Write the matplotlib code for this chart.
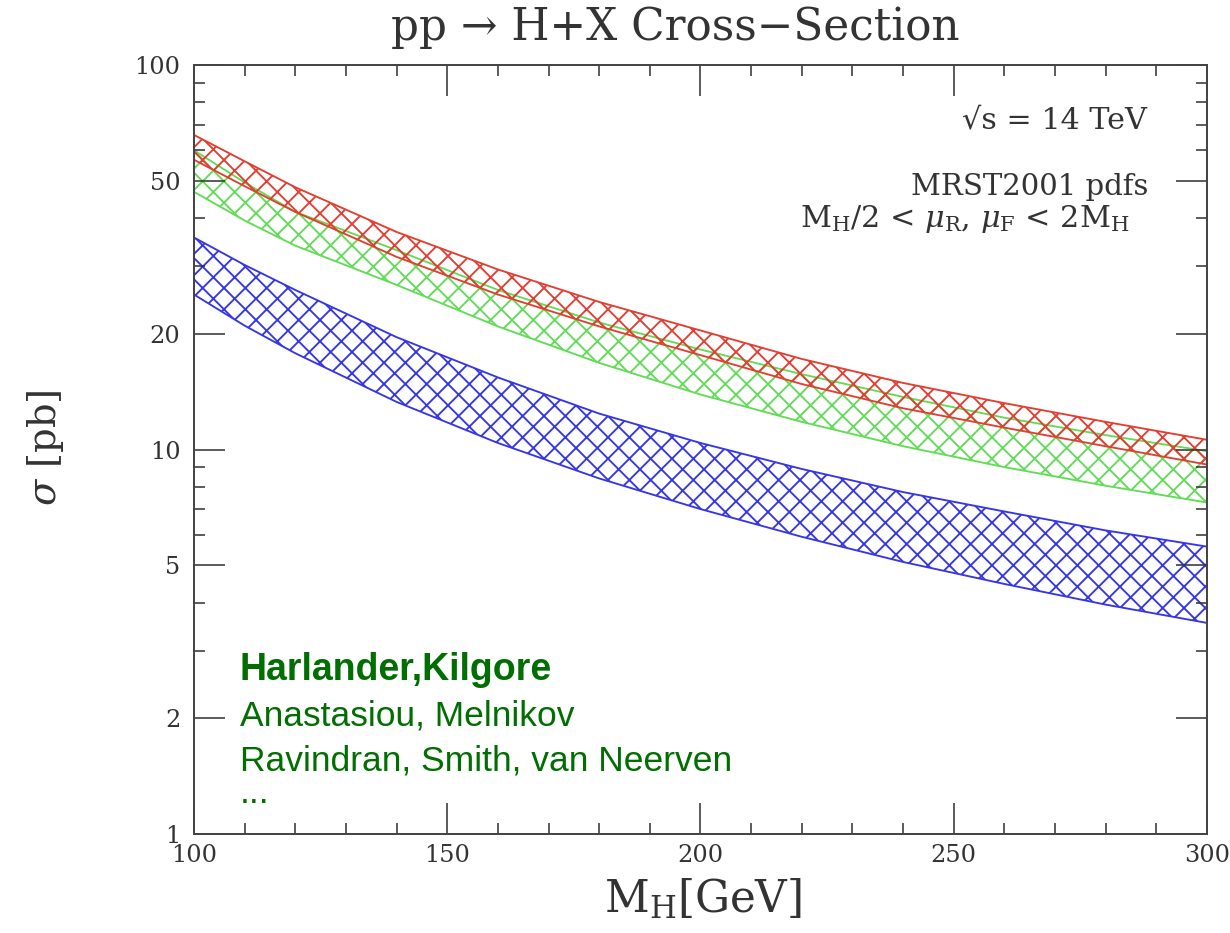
import matplotlib
matplotlib.use('Agg')
import matplotlib.pyplot as plt
from matplotlib.ticker import FixedLocator, NullFormatter

# values (sigma in pb)
mh = [100, 110, 120, 140, 160, 180, 200, 220, 240, 260, 280, 300]
red_lo = [56.7, 48.4, 41.5, 31.7, 25.3, 20.9, 17.6, 14.8, 12.8, 11.4, 10.2, 9.14]
red_hi = [65.8, 56.2, 48.1, 36.8, 29.4, 24.2, 20.4, 17.2, 14.9, 13.2, 11.8, 10.6]
green_lo = [46.8, 39.4, 33.9, 26.8, 20.9, 16.8, 13.9, 11.8, 10.2, 9.0, 8.05, 7.28]
green_hi = [60.0, 49.5, 41.5, 33.0, 26.0, 21.4, 18.2, 15.7, 13.7, 12.1, 10.9, 9.9]
blue_lo = [25.3, 21.0, 17.8, 13.3, 10.4, 8.41, 7.0, 5.93, 5.1, 4.47, 3.95, 3.54]
blue_hi = [35.6, 30.2, 26.0, 19.6, 15.4, 12.4, 10.4, 8.9, 7.75, 6.9, 6.16, 5.59]

y_major = [1, 2, 5, 10, 20, 50, 100]
y_minor = [3, 4, 6, 7, 8, 9, 30, 40, 60, 70, 80, 90]
x_major = [100, 150, 200, 250, 300]
x_minor = [110, 120, 130, 140, 160, 170, 180, 190, 210, 220, 230, 240,
           260, 270, 280, 290]

authors = ['Anastasiou, Melnikov', 'Ravindran, Smith, van Neerven', '...']

# dpi chosen so the hatch cells come out about as big as in the original;
# all point sizes are scaled by k to keep their pixel size
DPI = 64
k = 75 / DPI

plt.rcParams['font.family'] = 'DejaVu Serif'
plt.rcParams['mathtext.fontset'] = 'dejavuserif'
plt.rcParams['hatch.linewidth'] = 1.8 * k

fig = plt.figure(figsize=(1230 / DPI, 933 / DPI), dpi=DPI)
ax = fig.add_axes([0.1577, 0.1061, 0.8236, 0.8242])

bands = [(blue_lo, blue_hi, '#3636e4'),
         (green_lo, green_hi, '#62dc56'),
         (red_lo, red_hi, '#e23e32')]
for lo, hi, col in bands:
    with plt.rc_context({'hatch.color': col}):
        ax.fill_between(mh, lo, hi, facecolor='none', edgecolor=col,
                        hatch='x', linewidth=1.8 * k)

ax.set_yscale('log')
ax.set_xlim(100, 300)
ax.set_ylim(1, 100)

ax.yaxis.set_major_locator(FixedLocator(y_major))
ax.yaxis.set_minor_locator(FixedLocator(y_minor))
ax.set_yticklabels([str(v) for v in y_major])
ax.yaxis.set_minor_formatter(NullFormatter())
ax.xaxis.set_major_locator(FixedLocator(x_major))
ax.xaxis.set_minor_locator(FixedLocator(x_minor))
ax.set_xticklabels([str(v) for v in x_major])

ax.tick_params(which='both', direction='in', top=True, right=True,
               colors='#333333', width=1.5 * k, labelsize=23 * k)
ax.tick_params(which='major', length=30 * k)
ax.tick_params(which='minor', length=11 * k)
ax.tick_params(axis='y', which='major', pad=13 * k)
ax.tick_params(axis='x', which='major', pad=10 * k)
for sp in ax.spines.values():
    sp.set_linewidth(1.9 * k)
    sp.set_color('#444444')

fig.text(0.549, 0.957, 'pp \u2192 H+X Cross\u2212Section', ha='center',
         va='baseline', fontsize=42 * k, color='#333333')
fig.text(0.5715, 0.0226, r'M$_{\rm H}$[GeV]', ha='center', va='baseline',
         fontsize=42 * k, color='#333333')
fig.text(0.0366, 0.52, r'$\sigma$ [pb]', ha='center', va='center',
         rotation=90, fontsize=37 * k, color='#333333')

fig.text(0.9325, 0.8628, '\u221as = 14 TeV', ha='right', va='baseline',
         fontsize=29 * k, color='#333333')
fig.text(0.9333, 0.791, 'MRST2001 pdfs', ha='right', va='baseline',
         fontsize=28 * k, color='#333333')
fig.text(0.9187, 0.7567,
         r'M$_{\rm H}$/2 < $\mu_{\rm R}$, $\mu_{\rm F}$ < 2M$_{\rm H}$',
         ha='right', va='baseline', fontsize=29 * k, color='#333333')

green = '#006e00'
fig.text(0.1951, 0.2712, 'Harlander,Kilgore', fontfamily='Liberation Sans',
         fontweight='bold', fontsize=36 * k, color=green, va='baseline')
for txt, yb in zip(authors, [0.2229, 0.1747, 0.1393]):
    fig.text(0.1951, yb, txt, fontfamily='Liberation Sans', fontsize=34 * k,
             color=green, va='baseline')

fig.savefig('out.png', dpi=DPI)
